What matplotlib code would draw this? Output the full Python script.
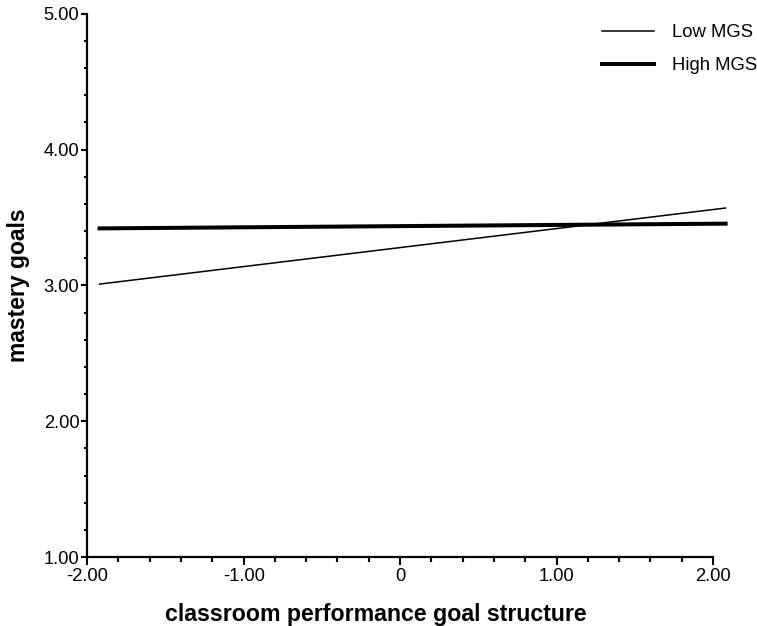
import matplotlib
matplotlib.use("Agg")
import matplotlib.pyplot as plt
from matplotlib.ticker import MultipleLocator

plt.rcParams['font.family'] = ['Liberation Sans', 'DejaVu Sans']

# simple slopes: x = classroom performance goal structure (centered)
x_vals = [-1.92, 2.08]
low_mgs = [3.01, 3.57]
high_mgs = [3.42, 3.455]

x_ticks = [-2, -1, 0, 1, 2]
x_labels = ['-2.00', '-1.00', '0', '1.00', '2.00']
y_ticks = [1, 2, 3, 4, 5]
y_labels = ['1.00', '2.00', '3.00', '4.00', '5.00']

fig = plt.figure(figsize=(7.57, 6.26), dpi=100)
ax = fig.add_axes([0.115, 0.110, 0.827, 0.868])

ax.plot(x_vals, low_mgs, color='black', lw=1.1, label='Low MGS', clip_on=False)
ax.plot(x_vals, high_mgs, color='black', lw=2.9, label='High MGS', clip_on=False)

ax.set_xlim(-2, 2)
ax.set_ylim(1, 5)
ax.set_xticks(x_ticks)
ax.set_xticklabels(x_labels)
ax.set_yticks(y_ticks)
ax.set_yticklabels(y_labels)
ax.xaxis.set_minor_locator(MultipleLocator(0.2))
ax.yaxis.set_minor_locator(MultipleLocator(0.2))

for s in ['top', 'right']:
    ax.spines[s].set_visible(False)
for s in ['left', 'bottom']:
    ax.spines[s].set_linewidth(1.6)

ax.tick_params(axis='x', which='major', direction='out', length=6, width=1.5, labelsize=13.2, pad=2)
ax.tick_params(axis='x', which='minor', direction='out', length=3.5, width=1.5)
ax.tick_params(axis='y', which='major', direction='out', length=4.5, width=1.5, labelsize=13.2, pad=1)
ax.tick_params(axis='y', which='minor', direction='out', length=2.5, width=1.5)

ax.set_xlabel('classroom performance goal structure', fontsize=16.7, fontweight='bold', labelpad=12)
ax.xaxis.set_label_coords(0.462, -0.085)
ax.set_ylabel('mastery goals', fontsize=16.5, fontweight='bold', labelpad=10)

ax.legend(loc='upper left', frameon=False, fontsize=13.3, handlelength=2.8,
          handletextpad=1.0, labelspacing=0.85, borderpad=0, borderaxespad=0,
          bbox_to_anchor=(0.795, 0.961), bbox_transform=fig.transFigure)

fig.savefig('out.png', dpi=100)
